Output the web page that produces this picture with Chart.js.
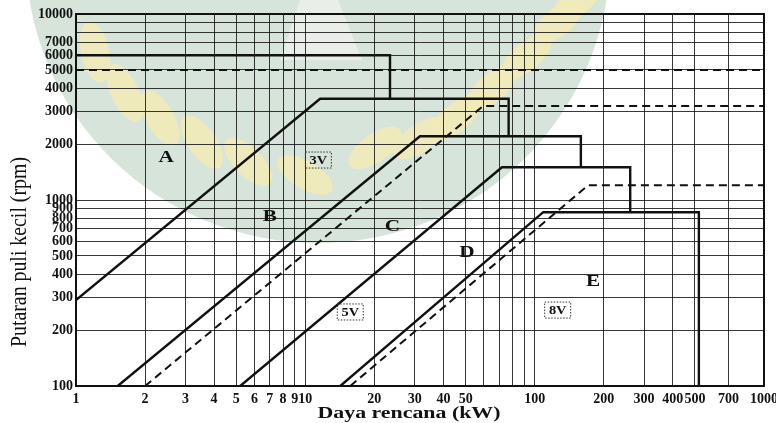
<!DOCTYPE html>
<html><head><meta charset="utf-8">
<script src="https://cdn.jsdelivr.net/npm/chart.js@4.4.1/dist/chart.umd.min.js"></script>
<style>html,body{margin:0;padding:0;background:#fff}#wrap{width:776px;height:423px;position:relative}</style>
</head><body><div id="wrap"><canvas id="c" width="776" height="423"></canvas></div>
<script>
// ---- axis ticks ----
const xTickValues = [1,2,3,4,5,6,7,8,9,10,20,30,40,50,60,70,80,90,100,200,300,400,500,700,1000];
const xTickLabels = ['1','2','3','4','5','6','7','8','9','10','20','30','40','50','','','','','100','200','300','400','500','700','1000'];
const yTickValues = [100,200,300,400,500,600,700,800,900,1000,2000,3000,4000,5000,6000,7000,8000,9000,10000];
const yTickLabels = ['100','200','300','400','500','600','700','800','900','1000','2000','3000','4000','5000','6000','7000','','','10000'];

// ---- boundary lines (power kW, rpm) ----
const topA_kW   = [1, 23.4, 23.4];
const topA_rpm  = [6000, 6000, 3500];
const lineAB_kW  = [1, 11.6, 77, 77];
const lineAB_rpm = [290, 3500, 3500, 2200];
const lineBC_kW  = [1.52, 31.6, 159, 159];
const lineBC_rpm = [100, 2200, 2200, 1500];
const lineCD_kW  = [5.2, 72, 261, 261];
const lineCD_rpm = [100, 1500, 1500, 860];
const lineDE_kW  = [14.2, 109, 520, 520];
const lineDE_rpm = [100, 860, 860, 100];
// dashed narrow V-belt boundaries
const top3V_kW   = [1, 1000];
const top3V_rpm  = [5000, 5000];
const line35_kW  = [2, 59.6, 1000];
const line35_rpm = [100, 3200, 3200];
const line58_kW  = [15.7, 171, 1000];
const line58_rpm = [100, 1200, 1200];

// ---- region labels ----
const regionNames = ['A','B','C','D','E'];
const regionKW    = [2.47, 7.0, 24, 50.7, 180];
const regionRPM   = [1700, 810, 715, 520, 362];
const boxNames = ['3V','5V','8V'];
const boxKW    = [11.4, 15.7, 126];
const boxRPM   = [1640, 250, 256];

const pts = (xs, ys) => xs.map((x, i) => ({x, y: ys[i]}));
const solid = (xs, ys) => ({data: pts(xs, ys), borderColor:'#111', borderWidth:2.4, showLine:true, pointRadius:0, fill:false, tension:0});
const dashed = (xs, ys) => ({data: pts(xs, ys), borderColor:'#111', borderWidth:2, borderDash:[8,5], showLine:true, pointRadius:0, fill:false, tension:0});

const watermark = {
  id: 'watermark',
  beforeDraw(chart) {
    const ctx = chart.ctx;
    ctx.save();
    ctx.fillStyle = '#d6e4d9';
    ctx.beginPath();
    ctx.ellipse(318, -45, 292, 288, 0, 0, Math.PI * 2);
    ctx.fill();
    ctx.fillStyle = 'rgba(240,242,238,0.75)';
    ctx.beginPath();
    ctx.moveTo(300, 0); ctx.lineTo(338, 0); ctx.lineTo(362, 60); ctx.lineTo(280, 60);
    ctx.closePath(); ctx.fill();
    const leaves = [[95,52,-12],[125,93,-25],[160,118,-30],[202,142,-35],[248,162,-45],[305,175,-60],[375,148,55],[420,138,55],[457,117,50],[492,88,50],[526,57,50],[558,22,50],[578,0,50]];
    ctx.fillStyle = 'rgba(241,234,186,0.92)';
    leaves.forEach(([x, y, a]) => {
      ctx.beginPath();
      ctx.ellipse(x, y, 14, 31, a * Math.PI / 180, 0, Math.PI * 2);
      ctx.fill();
    });
    ctx.restore();
  }
};

const annotate = {
  id: 'annotate',
  afterDraw(chart) {
    const ctx = chart.ctx, xs = chart.scales.x, ys = chart.scales.y, a = chart.chartArea;
    ctx.save();
    ctx.strokeStyle = '#111'; ctx.lineWidth = 2;
    ctx.strokeRect(a.left, a.top, a.right - a.left, a.bottom - a.top);
    ctx.fillStyle = '#111';
    ctx.textAlign = 'center'; ctx.textBaseline = 'middle';
    ctx.font = 'bold 17px "Liberation Serif", serif';
    regionNames.forEach((t, i) => {
      const px = xs.getPixelForValue(regionKW[i]), py = ys.getPixelForValue(regionRPM[i]);
      ctx.save(); ctx.translate(px, py); ctx.scale(1.25, 1); ctx.fillText(t, 0, 0); ctx.restore();
    });
    ctx.font = 'bold 12px "Liberation Serif", serif';
    boxNames.forEach((t, i) => {
      const px = xs.getPixelForValue(boxKW[i]), py = ys.getPixelForValue(boxRPM[i]);
      ctx.save(); ctx.translate(px, py); ctx.scale(1.2, 1); ctx.fillText(t, 0, 1); ctx.restore();
      ctx.save();
      ctx.setLineDash([1.5, 1.5]); ctx.lineWidth = 1; ctx.strokeStyle = '#333';
      ctx.strokeRect(px - 13, py - 8, 26, 16);
      ctx.restore();
    });
    ctx.font = 'bold 16px "Liberation Serif", serif';
    let t = 'Daya rencana (kW)';
    let w = ctx.measureText(t).width;
    ctx.save(); ctx.translate(409, 414); ctx.scale(183 / w, 1); ctx.fillText(t, 0, 0); ctx.restore();
    ctx.font = '17px "Liberation Serif", serif';
    t = 'Putaran puli kecil (rpm)';
    w = ctx.measureText(t).width;
    ctx.save(); ctx.translate(20, 252); ctx.rotate(-Math.PI / 2); ctx.scale(190 / w, 1.3); ctx.fillText(t, 0, 0); ctx.restore();
    ctx.restore();
  }
};

const tickFont = {family: '"Liberation Serif", serif', size: 14, weight: 'bold'};

new Chart(document.getElementById('c'), {
  type: 'scatter',
  data: {
    datasets: [
      solid(topA_kW, topA_rpm),
      solid(lineAB_kW, lineAB_rpm),
      solid(lineBC_kW, lineBC_rpm),
      solid(lineCD_kW, lineCD_rpm),
      solid(lineDE_kW, lineDE_rpm),
      dashed(top3V_kW, top3V_rpm),
      dashed(line35_kW, line35_rpm),
      dashed(line58_kW, line58_rpm)
    ]
  },
  options: {
    responsive: false,
    animation: false,
    devicePixelRatio: 1,
    layout: {padding: {top: 14, right: 12, bottom: 0, left: 0}},
    plugins: {legend: {display: false}, tooltip: {enabled: false}},
    scales: {
      x: {
        type: 'logarithmic', min: 1, max: 1000,
        afterBuildTicks: s => { s.ticks = xTickValues.map(v => ({value: v})); },
        afterFit: s => { s.height = 37; s.paddingLeft = 0; s.paddingRight = 0; },
        ticks: {autoSkip: false, maxRotation: 0, minRotation: 0, padding: 5, color: '#111', font: tickFont,
                callback: (v, i) => xTickLabels[i]},
        grid: {color: 'rgba(20,20,20,0.85)', lineWidth: 1, drawTicks: false},
        border: {display: true, color: '#111', width: 2}
      },
      y: {
        type: 'logarithmic', min: 100, max: 10000,
        afterBuildTicks: s => { s.ticks = yTickValues.map(v => ({value: v})); },
        afterFit: s => { s.width = 76; s.paddingTop = 0; s.paddingBottom = 0; },
        ticks: {autoSkip: false, padding: 3, color: '#111', font: tickFont,
                callback: (v, i) => yTickLabels[i]},
        grid: {color: 'rgba(20,20,20,0.85)', lineWidth: 1, drawTicks: false},
        border: {display: true, color: '#111', width: 2}
      }
    }
  },
  plugins: [watermark, annotate]
});
</script>
</body></html>
